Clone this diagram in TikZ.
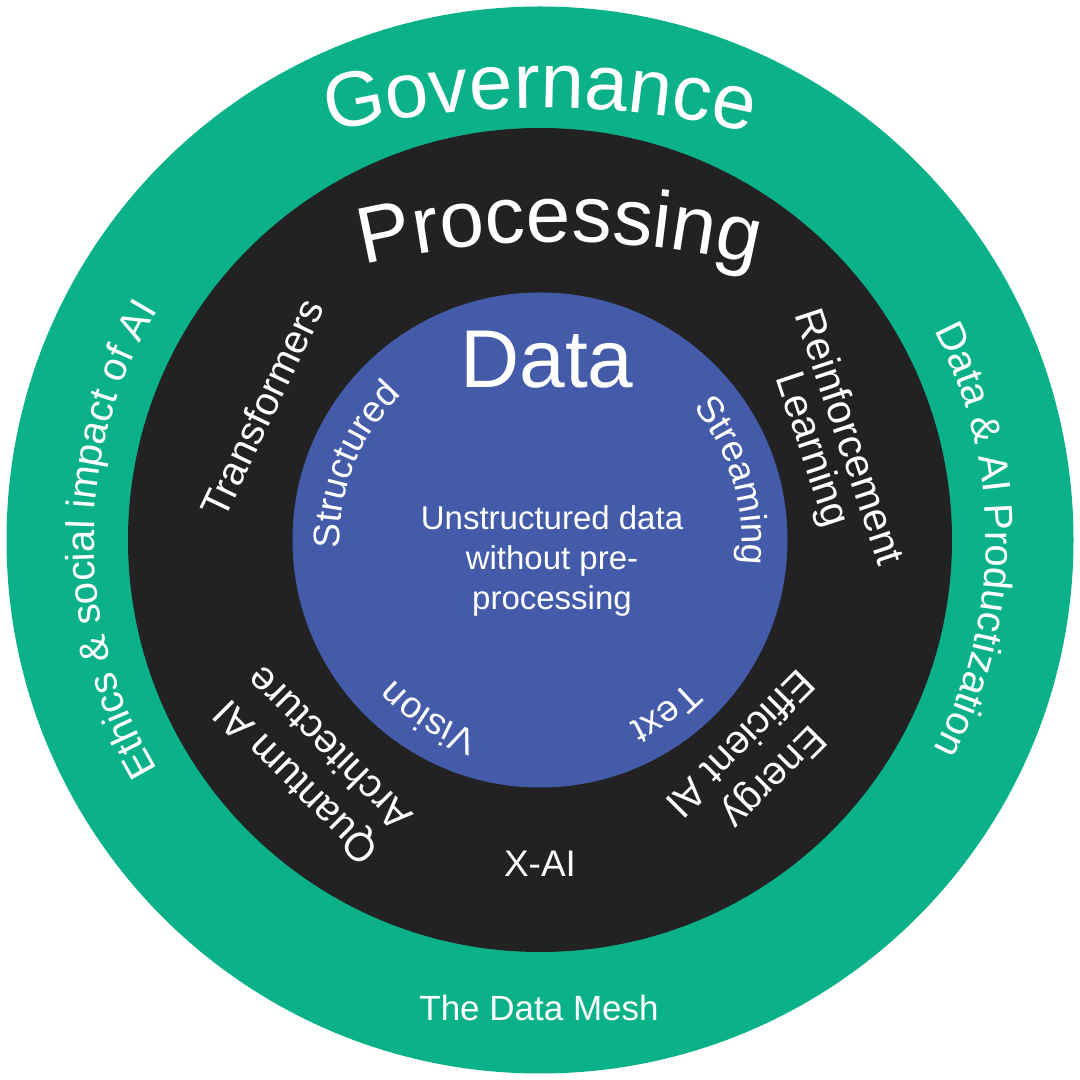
\documentclass[tikz,border=0pt]{standalone}
\usepackage{fontspec}
\setmainfont{Liberation Sans}
\usetikzlibrary{decorations.text}
\definecolor{ringgreen}{RGB}{11,178,137}
\definecolor{ringblack}{RGB}{34,34,34}
\definecolor{coreblue}{RGB}{67,91,168}
\newcommand{\fs}[1]{\fontsize{#1}{#1}\selectfont}
% curved label: cx, cy, radius, mid angle, half span, size, text
\newcommand{\arclabel}[7]{%
  \path[decorate,decoration={text along path,text align=center,text color=white,text={|\fs{#6}|#7}}]
    (#1,#2) ++(#4+#5:#3) arc[start angle=#4+#5,end angle=#4-#5,radius=#3];
}
\tikzset{
  lbl/.style={text=white,inner sep=0pt,align=center}
}
\begin{document}
\begin{tikzpicture}[x=1pt,y=1pt]
\useasboundingbox (0,0) rectangle (1080,1080);
\fill[white] (0,0) rectangle (1080,1080);
\coordinate (c) at (540,540);
\fill[ringgreen] (c) circle[radius=533.5];
\fill[ringblack] (c) circle[radius=412];
\fill[coreblue] (c) circle[radius=247.5];

% outer ring
\arclabel{540}{50}{922}{90}{20}{78}{Governance}
\arclabel{540}{540}{446}{180}{50}{40}{Ethics {\&} social impact of AI}
\arclabel{540}{540}{446}{0}{50}{40}{Data {\&} AI Productization}
\node[lbl,font=\fs{35}] (mesh) at (539,72) {The Data Mesh};

% middle ring
\arclabel{560}{0}{838}{90}{20}{80}{Processing}
\node[lbl,font=\fs{40},rotate=64.6] (transf) at (262,672) {Transformers};
\node[lbl,font={\fontsize{41}{38}\selectfont},rotate=-71.6] (reinf) at (829,636) {Reinforcement\\Learning};
\node[lbl,font={\fontsize{40}{48}\selectfont},rotate=135] (quant) at (312,314) {Quantum AI\\Architecture};
\node[lbl,font={\fontsize{40}{48}\selectfont},rotate=-135] (energy) at (758,319) {Energy\\Efficient AI};
\node[lbl,font=\fs{37}] (xai) at (540,216) {X-AI};

% core
\node[lbl,font=\fs{82},anchor=base] (data) at (547,692) {Data};
\arclabel{540}{540}{200}{158}{45}{37}{Structured}
\arclabel{540}{540}{202}{17}{45}{37}{Streaming}
\arclabel{540}{540}{202}{238}{45}{37}{Vision}
\arclabel{540}{540}{204}{306}{45}{37}{Text}
\node[lbl,font={\fontsize{33}{40}\selectfont}] (core) at (552,519.5) {Unstructured data\\without pre-\\processing};
\end{tikzpicture}
\end{document}
